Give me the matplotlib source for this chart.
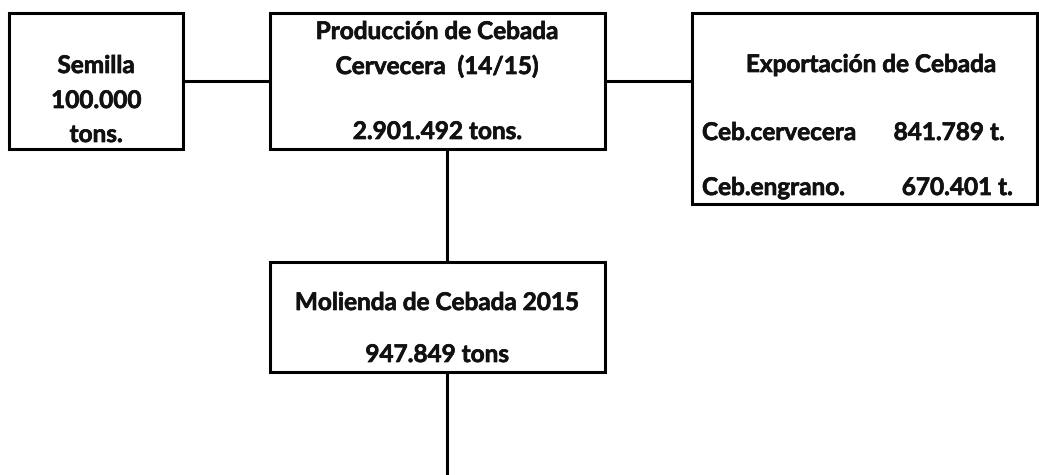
import matplotlib
matplotlib.use('Agg')
import matplotlib.pyplot as plt
import matplotlib.patheffects as pe
from matplotlib.patches import Rectangle

# Data
semilla_lines = ['Semilla', '100.000', 'tons.']
produccion_lines = ['Producción de Cebada', 'Cervecera  (14/15)', '2.901.492 tons.']
export_title = 'Exportación de Cebada'
export_names = ['Ceb.cervecera', 'Ceb.engrano.']
export_values = ['841.789 t.', '670.401 t.']
molienda_lines = ['Molienda de Cebada 2015', '947.849 tons']

W, H = 1039, 475
LW = 2.2
FS = 17.5
plt.rcParams['font.family'] = ['Lato', 'DejaVu Sans']

fig = plt.figure(figsize=(W / 100, H / 100), dpi=100)
ax = fig.add_axes([0, 0, 1, 1])
ax.set_xlim(0, W)
ax.set_ylim(H, 0)
ax.axis('off')


def box(x0, y0, x1, y1):
    ax.add_patch(Rectangle((x0, y0), x1 - x0, y1 - y0, fill=False,
                           edgecolor='black', linewidth=LW, joinstyle='miter'))


def line(xs, ys):
    ax.plot(xs, ys, color='black', linewidth=LW, solid_capstyle='butt')


def txt(x, y, s, ha='center'):
    # slight stroke to get closer to the heavier bold of the original
    ax.text(x, y, s, ha=ha, va='baseline', fontsize=FS,
            fontweight='bold', color='#111111',
            path_effects=[pe.withStroke(linewidth=0.5, foreground='#111111')])


# connectors
line([183, 270], [81, 81])
line([605, 692], [81, 81])
line([447, 447], [149, 262])
line([447, 447], [372, 475])

# boxes
box(9, 13, 183, 149)
box(270, 13, 605, 149)
box(692, 13, 1037, 204)
box(270, 262, 605, 372)

# Semilla
for s, y in zip(semilla_lines, [73, 108, 142]):
    txt(96, y, s)

# Produccion
for s, y in zip(produccion_lines, [39, 74, 139]):
    txt(437, y, s)

# Exportacion
txt(871, 72, export_title)
for name, val, y, xv in zip(export_names, export_values, [140, 195], [949, 957]):
    txt(702, y, name, ha='left')
    txt(xv, y, val)

# Molienda
for s, y in zip(molienda_lines, [310, 362]):
    txt(437, y, s)

fig.savefig('out.png', dpi=100)
